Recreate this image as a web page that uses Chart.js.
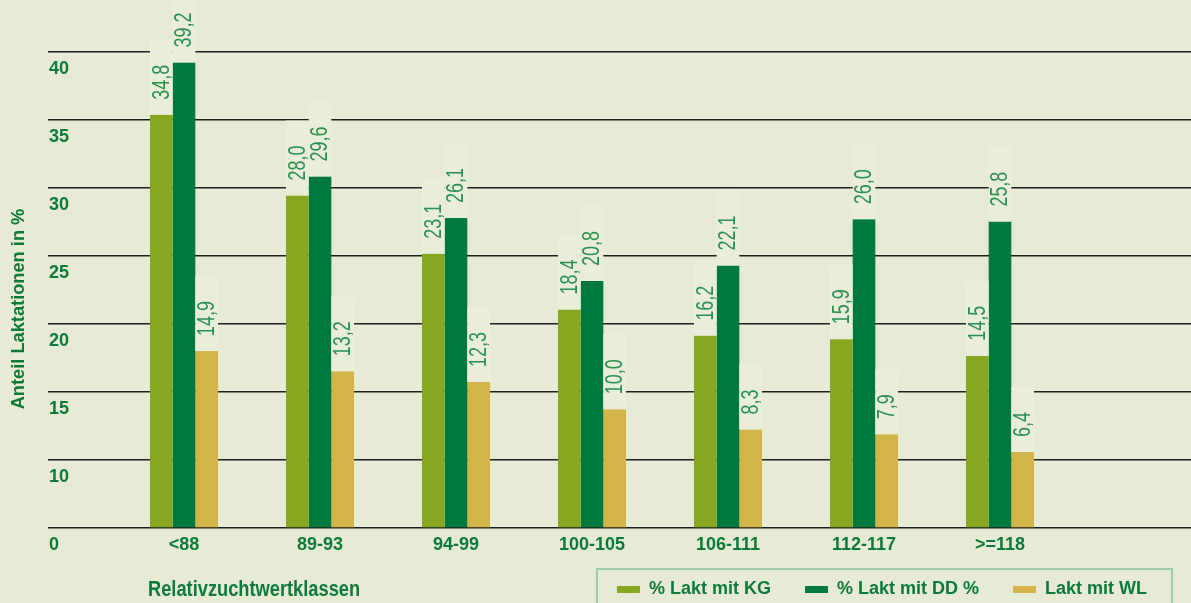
<!DOCTYPE html>
<html>
<head>
<meta charset="utf-8">
<script src="https://cdn.jsdelivr.net/npm/chart.js@4.4.1/dist/chart.umd.min.js"></script>
<style>
  html, body { margin: 0; padding: 0; background: #e7ebd6; }
  #wrap { width: 1191px; height: 603px; }
</style>
</head>
<body>
<div id="wrap"><canvas id="c" width="1191" height="603"></canvas></div>
<script>
// ---- data ----
const categories = ['<88', '89-93', '94-99', '100-105', '106-111', '112-117', '>=118'];
const seriesNames = ['% Lakt mit KG', '% Lakt mit DD %', 'Lakt mit WL'];
const kgValues = [34.8, 28.0, 23.1, 18.4, 16.2, 15.9, 14.5];
const ddValues = [39.2, 29.6, 26.1, 20.8, 22.1, 26.0, 25.8];
const wlValues = [14.9, 13.2, 12.3, 10.0, 8.3, 7.9, 6.4];
const yTickLabels = ['0', '10', '15', '20', '25', '30', '35', '40'];
const xTitle = 'Relativzuchtwertklassen';
const yTitle = 'Anteil Laktationen in %';

// ---- styles ----
const BG = '#e7ebd6';
const TEXT_GREEN = '#0b7a3b';
const LABEL_GREEN = '#2b9153';
const LABEL_BOX = '#e9edda';
const COLORS = ['#86a71f', '#007a3c', '#d2b449'];
const SANS = '"Liberation Sans", Arial, sans-serif';
const Y_MAX = 40.08;

const positions = categories.map((c, i) => i + 1);
const toPoints = vals => vals.map((v, i) => ({ x: positions[i], y: v }));
const fmt = v => v.toFixed(1).replace('.', ',');

// draw text compressed horizontally (narrow face emulation)
function narrowText(ctx, txt, x, y, rot, scaleX, align) {
  ctx.save();
  ctx.translate(x, y);
  ctx.rotate(rot);
  ctx.scale(scaleX, 1);
  ctx.textAlign = align;
  ctx.textBaseline = 'middle';
  ctx.fillText(txt, 0, 0);
  ctx.restore();
}

const decorPlugin = {
  id: 'decor',
  afterLayout(chart) {
    if (chart.legend) { chart.legend.right -= 10; }
  },
  beforeDraw(chart) {
    const ctx = chart.ctx;
    ctx.save();
    ctx.fillStyle = BG;
    ctx.fillRect(0, 0, chart.width, chart.height);
    ctx.restore();
  },
  afterDatasetsDraw(chart) {
    const ctx = chart.ctx;
    ctx.save();
    ctx.font = '23px ' + SANS;
    const sx = 0.78;
    chart.data.datasets.forEach((ds, di) => {
      const meta = chart.getDatasetMeta(di);
      meta.data.forEach((bar, i) => {
        const p = bar.getProps(['x', 'y', 'width'], true);
        const txt = fmt(ds.data[i].y);
        const tw = ctx.measureText(txt).width * sx;
        const padBottom = 15, padTop = 25;
        ctx.fillStyle = LABEL_BOX;
        ctx.fillRect(p.x - p.width / 2, p.y - tw - padBottom - padTop, p.width, tw + padBottom + padTop);
        ctx.fillStyle = LABEL_GREEN;
        narrowText(ctx, txt, p.x + 1, p.y - padBottom, -Math.PI / 2, sx, 'left');
      });
    });
    ctx.restore();
  },
  afterDraw(chart) {
    const ctx = chart.ctx;
    ctx.save();
    ctx.fillStyle = TEXT_GREEN;
    ctx.font = 'bold 22px ' + SANS;
    narrowText(ctx, xTitle, 148, 590, 0, 0.83, 'left');
    ctx.font = 'bold 19px ' + SANS;
    narrowText(ctx, yTitle, 19, 309, -Math.PI / 2, 0.96, 'center');
    // legend frame
    const lg = chart.legend;
    if (lg && lg.legendHitBoxes && lg.legendHitBoxes.length) {
      const hb = lg.legendHitBoxes;
      const left = hb[0].left - 20;
      const last = hb[hb.length - 1];
      const right = last.left + last.width + 25;
      ctx.strokeStyle = '#86c497';
      ctx.lineWidth = 1.5;
      ctx.strokeRect(left, lg.top + 22.5, right - left, 60);
    }
    ctx.restore();
  }
};

new Chart(document.getElementById('c'), {
  type: 'bar',
  data: {
    datasets: [
      { label: seriesNames[0], data: toPoints(kgValues), backgroundColor: COLORS[0] },
      { label: seriesNames[1], data: toPoints(ddValues), backgroundColor: COLORS[1] },
      { label: seriesNames[2], data: toPoints(wlValues), backgroundColor: COLORS[2] }
    ]
  },
  options: {
    responsive: false,
    animation: false,
    events: [],
    layout: { padding: { left: 46, right: 0, top: 52, bottom: -5.5 } },
    datasets: { bar: { categoryPercentage: 0.5, barPercentage: 1.0, borderWidth: 0 } },
    plugins: {
      tooltip: { enabled: false },
      title: { display: false },
      legend: {
        position: 'bottom',
        align: 'end',
        labels: {
          boxWidth: 23,
          boxHeight: 7,
          padding: 34,
          color: TEXT_GREEN,
          font: { family: SANS, size: 18, weight: 'bold' }
        }
      }
    },
    scales: {
      x: {
        type: 'linear',
        offset: false,
        min: 0,
        max: (1191 - 48) / 136,
        afterBuildTicks: axis => { axis.ticks = positions.map(v => ({ value: v })); },
        afterFit: axis => { axis.height = 18.5; },
        grid: { display: false, drawTicks: false },
        border: { display: false },
        ticks: {
          autoSkip: false,
          maxRotation: 0,
          mirror: true,
          padding: -27.8,
          color: TEXT_GREEN,
          font: { family: SANS, size: 18, weight: 'bold' },
          callback: v => categories[Math.round(v) - 1] || ''
        }
      },
      y: {
        type: 'linear',
        min: 0,
        max: Y_MAX,
        afterBuildTicks: axis => { axis.ticks = yTickLabels.map((l, i) => ({ value: i * Y_MAX / (yTickLabels.length - 1) })); },
        grid: { color: '#1e1e1e', lineWidth: 1.5, drawTicks: false },
        border: { display: false },
        ticks: {
          mirror: true,
          padding: 1,
          labelOffset: 17,
          color: TEXT_GREEN,
          font: { family: SANS, size: 18, weight: 'bold' },
          callback: (v, i) => yTickLabels[i]
        }
      }
    }
  },
  plugins: [decorPlugin]
});
</script>
</body>
</html>
